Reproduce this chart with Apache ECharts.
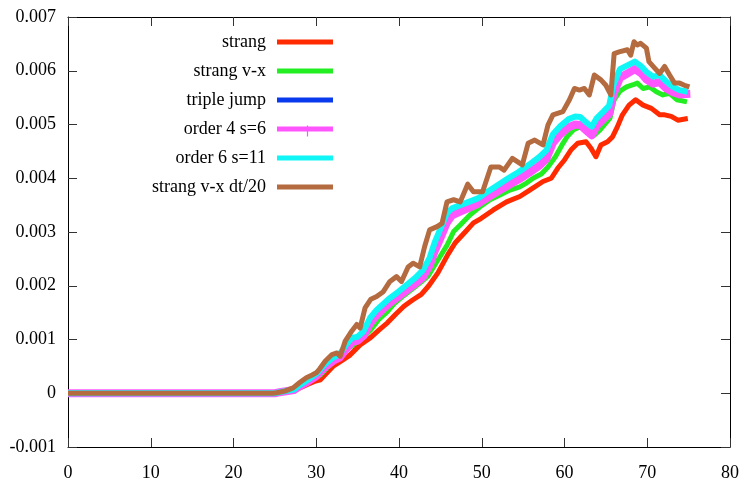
<!DOCTYPE html>
<html><head><meta charset="utf-8">
<script src="https://cdn.jsdelivr.net/npm/echarts@6/dist/echarts.min.js"></script>
<style>html,body{margin:0;padding:0;background:#fff;overflow:hidden}#c{width:742px;height:496px}</style>
</head><body><div id="c"></div>
<script>
const seriesNames = ['strang', 'strang v-x', 'triple jump', 'order 4 s=6', 'order 6 s=11', 'strang v-x dt/20'];
const seriesColors = ['#ff2a00', '#22ee22', '#0a3aee', '#ff55ff', '#10f6f6', '#b36b3f'];
const xMin = 0, xMax = 80, xStep = 10;
const yMin = -0.001, yMax = 0.007, yStep = 0.001;

const strang = [[0,0],[25,0],[25.6,0.00002],[27.3,0.00005],[28.0,0.0001],[29.0,0.00017],[29.8,0.00022],[30.5,0.00025],[31.3,0.00038],[32.1,0.00051],[32.9,0.00059],[34.0,0.0007],[35.3,0.0009],[36.6,0.00104],[37.6,0.00118],[38.6,0.00131],[39.6,0.00147],[40.6,0.00162],[41.6,0.00173],[42.7,0.00184],[43.6,0.002],[44.7,0.00224],[45.9,0.00258],[46.8,0.0028],[48.0,0.003],[49.0,0.00317],[49.9,0.00325],[51.4,0.00341],[53.0,0.00356],[54.6,0.00366],[55.8,0.00378],[57.4,0.00394],[58.4,0.004],[59.2,0.00419],[60.0,0.00434],[60.8,0.00453],[61.6,0.00465],[62.6,0.00468],[63.2,0.00456],[63.8,0.0044],[64.4,0.00462],[65.2,0.00468],[65.8,0.00477],[66.4,0.00496],[67.0,0.00518],[67.8,0.00536],[68.6,0.00546],[69.5,0.00536],[70.5,0.0053],[71.5,0.00518],[72.1,0.00518],[72.9,0.00515],[73.7,0.00508],[74.9,0.00511]];

const strangVX = [[0,0],[25,0],[25.6,0.00002],[27.3,0.00006],[28.0,0.00012],[29.0,0.0002],[29.7,0.00027],[30.5,0.00034],[31.5,0.0005],[32.4,0.00063],[33.3,0.00078],[34.5,0.0009],[35.7,0.00104],[36.6,0.00118],[37.6,0.00138],[38.6,0.00152],[39.5,0.00168],[40.6,0.00182],[41.6,0.00194],[42.6,0.00206],[43.5,0.00218],[44.7,0.00248],[45.8,0.00275],[46.6,0.00301],[47.4,0.00313],[48.6,0.00332],[49.8,0.00347],[51.0,0.0036],[52.2,0.00369],[53.4,0.00378],[54.6,0.00384],[55.4,0.00391],[56.2,0.004],[57.2,0.00408],[58.0,0.00421],[58.9,0.0044],[59.7,0.00462],[60.3,0.00477],[61.1,0.0049],[61.9,0.00496],[62.7,0.00495],[63.1,0.00484],[63.5,0.00479],[64.3,0.0049],[64.9,0.00501],[65.5,0.00512],[66.0,0.00546],[66.7,0.00562],[67.5,0.0057],[68.3,0.00574],[68.8,0.00577],[69.5,0.00567],[70.3,0.0057],[71.1,0.00561],[71.9,0.00555],[72.7,0.00558],[73.6,0.00546],[74.8,0.00542]];

const tripleJump = [[0,0],[25,0],[25.6,0.00002],[27.3,0.00006],[28.0,0.00013],[29.0,0.00023],[30.0,0.00033],[31.0,0.00049],[32.0,0.00061],[32.8,0.00067],[33.5,0.00081],[34.3,0.00096],[35.0,0.00099],[35.7,0.00108],[36.5,0.00131],[37.3,0.00146],[38.1,0.00158],[38.8,0.00168],[39.7,0.00178],[40.8,0.00191],[42.0,0.00206],[42.9,0.00218],[43.7,0.0024],[44.3,0.00265],[44.9,0.00286],[45.8,0.00319],[46.4,0.00332],[47.4,0.00339],[48.6,0.00347],[49.6,0.00354],[50.8,0.00366],[52.0,0.00377],[53.2,0.00388],[54.5,0.00399],[55.7,0.00411],[57.0,0.00425],[57.8,0.00437],[58.6,0.00467],[59.5,0.00483],[60.5,0.00496],[61.3,0.00501],[61.9,0.005],[62.7,0.00489],[63.3,0.00481],[63.9,0.00499],[64.7,0.00511],[65.4,0.00521],[65.9,0.00557],[66.7,0.00588],[67.6,0.00596],[68.5,0.00604],[69.3,0.00596],[69.9,0.00585],[70.7,0.00577],[71.5,0.0058],[72.3,0.00568],[73.1,0.00561],[73.9,0.00557],[75.0,0.00557]];

const order4 = [[0,0],[25,0],[25.6,0.00002],[27.3,0.00006],[28.0,0.00013],[29.0,0.00022],[30.0,0.00032],[31.0,0.00048],[32.0,0.0006],[32.8,0.00066],[33.5,0.0008],[34.3,0.00095],[35.0,0.00098],[35.7,0.00107],[36.5,0.0013],[37.3,0.00145],[38.1,0.00157],[38.8,0.00167],[39.7,0.00177],[40.8,0.0019],[42.0,0.00204],[42.9,0.00216],[43.7,0.00238],[44.3,0.00264],[44.9,0.00285],[45.8,0.00318],[46.4,0.00331],[47.4,0.00338],[48.6,0.00346],[49.6,0.00353],[50.8,0.00365],[52.0,0.00376],[53.2,0.00387],[54.5,0.00398],[55.7,0.0041],[57.0,0.00424],[57.8,0.00436],[58.6,0.00466],[59.5,0.00482],[60.5,0.00495],[61.3,0.005],[61.9,0.00499],[62.7,0.00488],[63.3,0.0048],[63.9,0.00498],[64.7,0.0051],[65.4,0.0052],[65.9,0.00556],[66.7,0.00587],[67.6,0.00595],[68.5,0.00603],[69.3,0.00595],[69.9,0.00584],[70.7,0.00576],[71.5,0.00579],[72.3,0.00567],[73.1,0.0056],[73.9,0.00556],[75.2,0.00557]];

const order6 = [[0,0],[25,0],[25.6,0.00002],[27.3,0.00007],[28.0,0.00015],[29.0,0.00025],[30.0,0.00036],[31.0,0.00053],[32.0,0.00066],[32.8,0.00072],[33.5,0.00088],[34.3,0.00103],[35.0,0.00105],[35.7,0.00115],[36.5,0.0014],[37.3,0.00155],[38.1,0.00166],[38.8,0.00176],[39.7,0.00186],[40.8,0.002],[42.0,0.00215],[42.9,0.00229],[43.7,0.00252],[44.3,0.0028],[44.9,0.00302],[45.8,0.00335],[46.4,0.00344],[47.4,0.0035],[48.6,0.00357],[49.6,0.00363],[50.8,0.00376],[52.0,0.00388],[53.2,0.004],[54.5,0.00412],[55.7,0.00425],[57.0,0.0044],[57.8,0.00452],[58.6,0.00482],[59.5,0.00497],[60.5,0.0051],[61.3,0.00515],[61.9,0.00514],[62.7,0.00503],[63.3,0.00496],[63.9,0.00512],[64.7,0.00524],[65.4,0.00535],[65.9,0.00573],[66.7,0.00603],[67.6,0.0061],[68.5,0.00617],[69.3,0.00608],[69.9,0.00598],[70.7,0.00589],[71.5,0.00592],[72.3,0.0058],[73.1,0.0057],[73.9,0.00564],[74.9,0.00561]];

const strangVXdt20 = [[0,0],[24.8,0],[25.2,0.00001],[26.2,0.00004],[27.2,0.0001],[28.0,0.0002],[28.8,0.00029],[29.5,0.00034],[30.0,0.00038],[30.4,0.00045],[31.1,0.0006],[31.9,0.00072],[32.5,0.00075],[32.9,0.00069],[33.5,0.00097],[34.3,0.00116],[34.9,0.00128],[35.3,0.00121],[35.9,0.00159],[36.6,0.00175],[37.3,0.0018],[38.1,0.00189],[38.9,0.00208],[39.7,0.00217],[40.3,0.00208],[41.1,0.00235],[41.7,0.00242],[42.5,0.00235],[43.1,0.00273],[43.7,0.00304],[44.6,0.0031],[45.2,0.00316],[45.8,0.00356],[46.6,0.0036],[47.4,0.00356],[48.3,0.00389],[49.0,0.00375],[50.1,0.00375],[51.1,0.00421],[52.1,0.00421],[52.7,0.00415],[53.7,0.00437],[54.9,0.00425],[55.6,0.00465],[56.4,0.00471],[57.4,0.00462],[58.0,0.00499],[58.6,0.00518],[59.8,0.00524],[60.6,0.00546],[61.2,0.00567],[61.8,0.00564],[62.4,0.00567],[63.0,0.00555],[63.6,0.00592],[64.4,0.00583],[65.0,0.00573],[65.6,0.00555],[66.0,0.00632],[66.6,0.00635],[67.6,0.00639],[68.0,0.00629],[68.4,0.00654],[68.8,0.00648],[69.2,0.00651],[69.9,0.00642],[70.2,0.00617],[70.9,0.00605],[71.5,0.00595],[72.1,0.00608],[72.7,0.00592],[73.3,0.00577],[73.9,0.00577],[74.5,0.00573],[75.1,0.0057]];

const seriesData = [strang, strangVX, tripleJump, order4, order6, strangVXdt20];
const lineWidths = [5, 5, 5, 8, 6, 5];

const FONT = 'Liberation Serif';
const chart = echarts.init(document.getElementById('c'), null, {renderer: 'canvas'});

function xAxisCfg(pos, showLabel) {
  return {
    type: 'value', position: pos, min: xMin, max: xMax, interval: xStep,
    axisLine: {show: true, onZero: false, lineStyle: {color: '#000', width: 1}},
    axisTick: {show: true, inside: true, length: 9, lineStyle: {color: '#333'}},
    axisLabel: {show: showLabel, margin: 17, color: '#000', fontFamily: FONT, fontSize: 18},
    splitLine: {show: false}
  };
}
function yAxisCfg(pos, showLabel) {
  return {
    type: 'value', position: pos, min: yMin, max: yMax, interval: yStep,
    axisLine: {show: true, onZero: false, lineStyle: {color: '#000', width: 1}},
    axisTick: {show: true, inside: true, length: 9, lineStyle: {color: '#333'}},
    axisLabel: {show: showLabel, margin: 12, color: '#000', fontFamily: FONT, fontSize: 18},
    splitLine: {show: false}
  };
}

chart.setOption({
  animation: false,
  backgroundColor: '#fff',
  grid: {left: 68, right: 12, top: 17, bottom: 49, containLabel: false},
  xAxis: [xAxisCfg('bottom', true), xAxisCfg('top', false)],
  yAxis: [yAxisCfg('left', true), yAxisCfg('right', false)],
  legend: {
    orient: 'vertical', right: 409, top: 32, align: 'right', padding: 0,
    itemWidth: 56, itemHeight: 5, itemGap: 9, icon: 'rect', selectedMode: false,
    textStyle: {fontFamily: FONT, fontSize: 18, color: '#000', lineHeight: 20, padding: [0, 6, 0, 0]},
    data: seriesNames
  },
  graphic: [{
    type: 'line', left: 305, top: 123, z: 100,
    shape: {x1: 0, y1: 0, x2: 0, y2: 11},
    style: {stroke: seriesColors[3], lineWidth: 1.2}
  }],
  series: seriesNames.map((n, i) => ({
    name: n, type: 'line', xAxisIndex: 0, yAxisIndex: 0,
    data: seriesData[i], showSymbol: false, symbol: 'none',
    color: seriesColors[i],
    lineStyle: {width: lineWidths[i], color: seriesColors[i], join: 'round'},
    emphasis: {disabled: true}
  }))
});
</script></body></html>
